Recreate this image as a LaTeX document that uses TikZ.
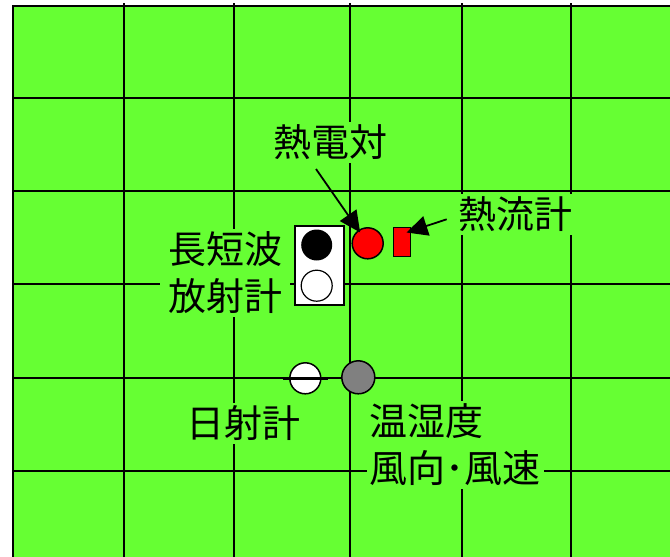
\documentclass[tikz,border=0pt]{standalone}
\usepackage{fontspec}
\newfontfamily\jp{Noto Sans CJK JP}
\usetikzlibrary{arrows.meta}
\definecolor{bggreen}{RGB}{102,255,51}
\definecolor{mgray}{RGB}{128,128,128}
\begin{document}
\begin{tikzpicture}[x=1pt,y=-1pt,
  grid/.style={line width=2pt},
  lbl/.style={font=\jp\fontsize{38}{47}\selectfont, fill=bggreen, inner sep=3pt},
  arr/.style={line width=1.8pt, -{Triangle[length=21pt,width=20pt]}},
  inst/.style={circle, draw, line width=1.5pt, inner sep=0pt},
]
\useasboundingbox (0,0) rectangle (670,557);
\fill[white] (0,0) rectangle (670,557);
\fill[bggreen] (13,6) rectangle (672,560);
\foreach \x in {124,234,350,462,571} \draw[grid] (\x,3) -- (\x,560);
\foreach \y in {98,191,284,378,471} \draw[grid] (13,\y) -- (672,\y);
\draw[line width=2.8pt] (13,560) -- (13,6) -- (672,6);
% labels
\node[lbl] (tc) at (330,142) {熱電対};
\node[lbl] (hf) at (515,214) {熱流計};
\node[lbl, align=center, inner xsep=8pt] (rad) at (225,273) {長短波\\放射計};
\node[lbl] (sun) at (243,423) {日射計};
\node[lbl, align=left] (met) at (455,445) {温湿度\\風向･風速};
% instruments
\node[draw, fill=white, line width=1.5pt, minimum width=49pt, minimum height=79pt, inner sep=0pt] (box) at (319.3,265.3) {};
\node[circle, fill=black, minimum size=31pt, inner sep=0pt] (lw) at (316.7,245) {};
\node[inst, fill=white, line width=1.2pt, minimum size=31pt] (sw) at (316.7,285.7) {};
\node[inst, fill=red, minimum size=31pt] (rc) at (367.7,243.3) {};
\node[draw, fill=red, line width=1pt, minimum width=17pt, minimum height=29pt, inner sep=0pt] (rr) at (402,242) {};
\node[inst, fill=white, minimum size=31pt] (pyr) at (305.3,378.3) {};
\draw[line width=3pt] ([xshift=-6pt]pyr.west) -- ([xshift=6pt]pyr.east);
\node[inst, fill=mgray, minimum size=33pt] (th) at (358.3,377.3) {};
% arrows
\coordinate (tcs) at (316,169);
\coordinate (hfs) at (446.7,219.3);
\draw[arr, shorten >=-3pt] (tcs) -- (rc);
\draw[arr] (hfs) -- ([xshift=-4.5pt,yshift=-5.5pt]rr.north east);
\end{tikzpicture}
\end{document}
